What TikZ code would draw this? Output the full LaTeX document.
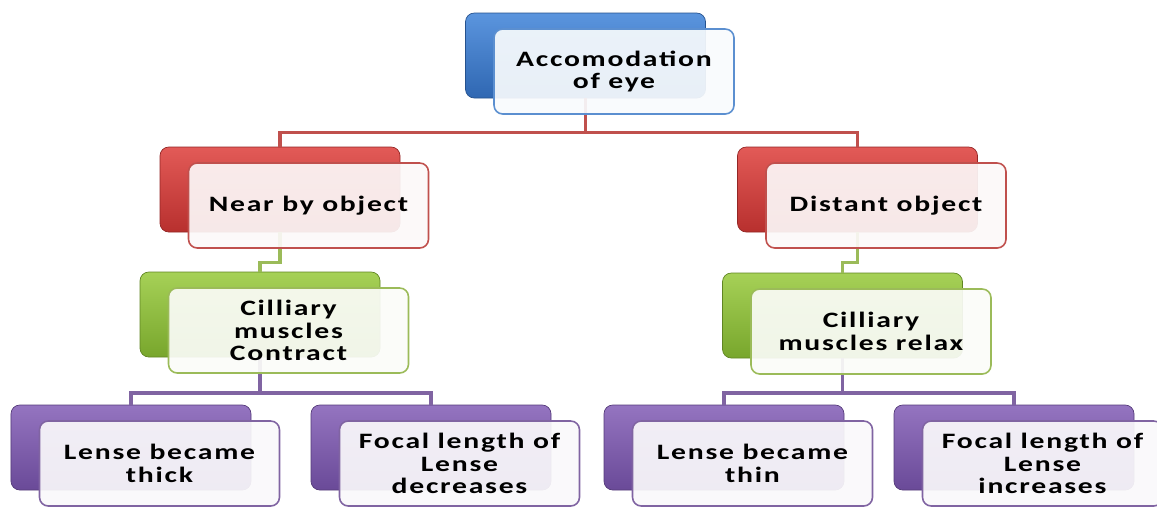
\documentclass[tikz,border=0pt]{standalone}
\usepackage{fontspec}
\setmainfont{Carlito}[FakeStretch=1.35,LetterSpace=8]
\usetikzlibrary{calc}

\definecolor{blueA}{HTML}{5B95DE}
\definecolor{blueB}{HTML}{2F67B2}
\definecolor{blueE}{HTML}{5B8FD0}
\definecolor{redA}{HTML}{E25A57}
\definecolor{redB}{HTML}{B8302E}
\definecolor{redE}{HTML}{C0504D}
\definecolor{greenA}{HTML}{A6D157}
\definecolor{greenB}{HTML}{78A62C}
\definecolor{greenE}{HTML}{9BBB59}
\definecolor{purpA}{HTML}{9474C0}
\definecolor{purpB}{HTML}{6A4A98}
\definecolor{purpE}{HTML}{8064A2}

\tikzset{
  backbox/.style={rectangle, rounded corners=5pt, minimum width=4.8cm, minimum height=1.7cm,
    top color=#1A, bottom color=#1B, draw=#1B!80!black, line width=0.4pt},
  frontbox/.style={rectangle, rounded corners=5pt, minimum width=4.8cm, minimum height=1.7cm,
    draw=#1E, line width=0.9pt, fill=white!96!#1E, fill opacity=0.92, text opacity=1,
    align=center, font=\bfseries\fontsize{12.5}{13}\selectfont},
  link/.style={draw=#1E, line width=2pt},
}

\begin{document}
\begin{tikzpicture}
\useasboundingbox (0,0) rectangle (23.14,-10.12);

% back boxes
\node[backbox=blue] (root) at (11.71,-1.11) {};
\node[backbox=red] (near) at (5.60,-3.79) {};
\node[backbox=red] (dist) at (17.15,-3.79) {};
\node[backbox=green] (cilA) at (5.20,-6.29) {};
\node[backbox=green] (cilB) at (16.85,-6.31) {};
\node[backbox=purp] (lensA) at (2.62,-8.95) {};
\node[backbox=purp] (focA) at (8.62,-8.95) {};
\node[backbox=purp] (lensB) at (14.48,-8.95) {};
\node[backbox=purp] (focB) at (20.28,-8.95) {};

% connectors
\draw[link=red] (root.south) -- ++(0,-0.68) -| (near.north);
\draw[link=red] (root.south) -- ++(0,-0.68) -| (dist.north);
\draw[link=green] (near.south) -- ++(0,-0.6) -| (cilA.north);
\draw[link=green] (dist.south) -- ++(0,-0.6) -| (cilB.north);
\draw[link=purp] (cilA.south) -- ++(0,-0.71) -| (lensA.north);
\draw[link=purp] (cilA.south) -- ++(0,-0.71) -| (focA.north);
\draw[link=purp] (cilB.south) -- ++(0,-0.69) -| (lensB.north);
\draw[link=purp] (cilB.south) -- ++(0,-0.69) -| (focB.north);

% front boxes
\node[frontbox=blue] (rootT) at ($(root)+(0.57,-0.32)$) {Accomodation\\of eye};
\node[frontbox=red] (nearT) at ($(near)+(0.57,-0.32)$) {Near by object};
\node[frontbox=red] (distT) at ($(dist)+(0.57,-0.32)$) {Distant object};
\node[frontbox=green] (cilAT) at ($(cilA)+(0.57,-0.32)$) {Cilliary\\muscles\\Contract};
\node[frontbox=green] (cilBT) at ($(cilB)+(0.57,-0.32)$) {Cilliary\\muscles relax};
\node[frontbox=purp] (lensAT) at ($(lensA)+(0.57,-0.32)$) {Lense became\\thick};
\node[frontbox=purp] (focAT) at ($(focA)+(0.57,-0.32)$) {Focal length of\\Lense\\decreases};
\node[frontbox=purp] (lensBT) at ($(lensB)+(0.57,-0.32)$) {Lense became\\thin};
\node[frontbox=purp] (focBT) at ($(focB)+(0.57,-0.32)$) {Focal length of\\Lense\\increases};

\end{tikzpicture}
\end{document}
